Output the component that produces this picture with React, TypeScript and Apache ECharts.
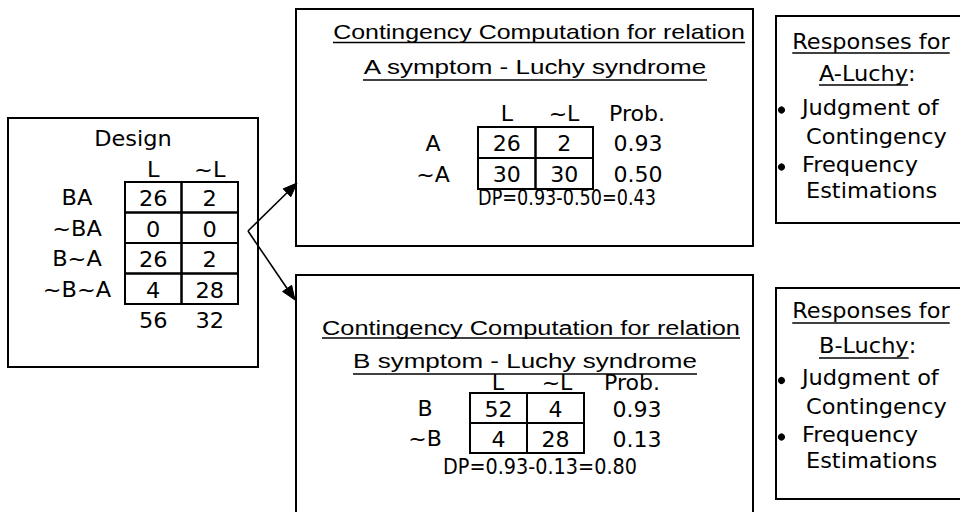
import React, { useEffect, useRef } from "react";
import * as echarts from "echarts";

// ---------- data ----------
const designTitle = "Design";
const designCols = ["L", "~L"];
const designRows = ["BA", "~BA", "B~A", "~B~A"];
const designL = [26, 0, 26, 4];
const designNotL = [2, 0, 2, 28];

const relACols = ["L", "~L", "Prob."];
const relARows = ["A", "~A"];
const relAL = [26, 30];
const relANotL = [2, 30];
const relATitle = ["Contingency Computation for relation", "A symptom - Luchy syndrome"];

const relBCols = ["L", "~L", "Prob."];
const relBRows = ["B", "~B"];
const relBL = [52, 4];
const relBNotL = [4, 28];
const relBTitle = ["Contingency Computation for relation", "B symptom - Luchy syndrome"];

const respHead = "Responses for";
const respATarget = "A-Luchy";
const respBTarget = "B-Luchy";
const respItems = [
  ["Judgment of", "Contingency"],
  ["Frequency", "Estimations"],
];

// ---------- helpers ----------
const FONT = "DejaVu Sans, Verdana, sans-serif";
const TFONT = "Liberation Sans, Arial, sans-serif";

let ctx: CanvasRenderingContext2D | null = null;
function measure(text: string, size: number, family: string): number {
  if (!ctx) ctx = document.createElement("canvas").getContext("2d");
  if (!ctx) return text.length * size * 0.55;
  ctx.font = `${size}px ${family}`;
  return ctx.measureText(text).width;
}

type TOpt = { size?: number; family?: string; align?: string; sx?: number; width?: number };
function T(text: string, x: number, y: number, o: TOpt = {}) {
  const size = o.size ?? 21;
  const family = o.family ?? FONT;
  let sx = o.sx ?? 1;
  if (o.width) sx = o.width / measure(text, size, family);
  const align = o.align ?? "center";
  return {
    type: "text",
    x,
    y,
    scaleX: sx,
    style: {
      text,
      fontSize: size,
      fontFamily: family,
      fill: "#000",
      align,
      verticalAlign: "middle",
      textAlign: align,
      textVerticalAlign: "middle",
    },
  };
}
function textW(text: string, size: number, family: string, sx: number) {
  return measure(text, size, family) * sx;
}
function L(x1: number, y1: number, x2: number, y2: number, w = 1.5) {
  return { type: "line", shape: { x1, y1, x2, y2 }, style: { stroke: "#000", lineWidth: w } };
}
function R(x: number, y: number, width: number, height: number, w = 2) {
  return { type: "rect", shape: { x, y, width, height }, style: { fill: "none", stroke: "#000", lineWidth: w } };
}
function arrow(x1: number, y1: number, x2: number, y2: number) {
  const dx = x2 - x1, dy = y2 - y1;
  const len = Math.hypot(dx, dy);
  const ux = dx / len, uy = dy / len;
  const hl = 14, hw = 5.5;
  const bx = x2 - ux * hl, by = y2 - uy * hl;
  return [
    L(x1, y1, bx, by, 1.6),
    {
      type: "polygon",
      shape: { points: [[x2, y2], [bx - uy * hw, by + ux * hw], [bx + uy * hw, by - ux * hw]] },
      style: { fill: "#000", stroke: "#000", lineWidth: 1 },
    },
  ];
}
function prob(a: number, b: number) {
  return (a / (a + b)).toFixed(2);
}

// ---------- builders ----------
function designBox() {
  const els: any[] = [];
  els.push(R(8, 118, 250, 249));
  const sx = 1.07;
  els.push(T(designTitle, 133, 139, { sx }));
  const x0 = 125, cw = 56.5, y0 = 182, rh = 30.5;
  designCols.forEach((c, j) => els.push(T(c, x0 + cw * (j + 0.5), 170, { sx })));
  designRows.forEach((r, i) => {
    const cy = y0 + rh * (i + 0.5);
    els.push(T(r, 77, cy + 1, { sx }));
    [designL[i], designNotL[i]].forEach((v, j) => {
      els.push(R(x0 + cw * j, y0 + rh * i, cw, rh));
      els.push(T(String(v), x0 + cw * (j + 0.5), cy + 2, { sx }));
    });
  });
  const totL = designL.reduce((a, b) => a + b, 0);
  const totN = designNotL.reduce((a, b) => a + b, 0);
  els.push(T(String(totL), x0 + cw * 0.5, 321, { sx }));
  els.push(T(String(totN), x0 + cw * 1.5, 321, { sx }));
  return els;
}

type RelLayout = {
  box: [number, number, number, number];
  t1: [number, number, number, number]; // cx, cy, underline y, width
  t2: [number, number, number, number];
  headY: number;
  headX: [number, number, number];
  x0: number; cw: number; y0: number; rh: number;
  rowX: number; probX: number;
  dp: [number, number, number];
};
function relBox(title: string[], cols: string[], rows: string[], lv: number[], nv: number[], lay: RelLayout) {
  const els: any[] = [];
  const [bx, by, bw, bh] = lay.box;
  els.push(R(bx, by, bw, bh));
  [lay.t1, lay.t2].forEach((t, k) => {
    const [cx, cy, uy, w] = t;
    els.push(T(title[k], cx, cy, { family: TFONT, size: 21, width: w }));
    els.push(L(cx - w / 2, uy, cx + w / 2, uy, 1.5));
  });
  const sx = 1.05;
  cols.forEach((c, j) => els.push(T(c, lay.headX[j], lay.headY, { sx })));
  const probs: string[] = [];
  rows.forEach((r, i) => {
    const cy = lay.y0 + lay.rh * (i + 0.5);
    els.push(T(r, lay.rowX, cy + 1, { sx }));
    [lv[i], nv[i]].forEach((v, j) => {
      els.push(R(lay.x0 + lay.cw * j, lay.y0 + lay.rh * i, lay.cw, lay.rh));
      els.push(T(String(v), lay.x0 + lay.cw * (j + 0.5), cy + 1.5, { sx }));
    });
    const p = prob(lv[i], nv[i]);
    probs.push(p);
    els.push(T(p, lay.probX, cy + 1.5, { sx }));
  });
  const dpv = (Number(probs[0]) - Number(probs[1])).toFixed(2);
  const dpText = `DP=${probs[0]}-${probs[1]}=${dpv}`;
  els.push(T(dpText, lay.dp[0], lay.dp[1], { width: lay.dp[2] }));
  return els;
}

function respBox(target: string, top: number, bottom: number, ys: number[], uys: [number, number]) {
  const els: any[] = [];
  els.push(R(776, top, 240, bottom - top));
  const size = 22, sx = 1.02;
  const w0 = textW(respHead, size, FONT, sx);
  els.push(T(respHead, 871, ys[0], { size, sx }));
  els.push(L(871 - w0 / 2, uys[0], 871 + w0 / 2, uys[0], 1.5));
  const w1 = textW(target, size, FONT, sx);
  els.push(T(target, 819, ys[1], { size, sx, align: "left" }));
  els.push(T(":", 819 + w1, ys[1], { size, sx, align: "left" }));
  els.push(L(819, uys[1], 819 + w1, uys[1], 1.5));
  respItems.forEach((item, k) => {
    const y1 = ys[2 + k * 2], y2 = ys[3 + k * 2];
    els.push({ type: "circle", shape: { cx: 781.5, cy: y1 + 3, r: 3.6 }, style: { fill: "#000" } });
    els.push(T(item[0], 802, y1, { size, sx, align: "left" }));
    els.push(T(item[1], 806, y2, { size, sx, align: "left" }));
  });
  return els;
}

export default function App() {
  const ref = useRef<HTMLDivElement>(null);
  useEffect(() => {
    if (!ref.current) return;
    const chart = echarts.init(ref.current, null, { renderer: "svg", width: 960, height: 512 });
    const elements: any[] = [
      { type: "rect", shape: { x: 0, y: 0, width: 960, height: 512 }, style: { fill: "#fff" }, z: -10 },
      ...designBox(),
      ...arrow(248, 231, 297, 183),
      ...arrow(248, 231, 295, 300),
      ...relBox(relATitle, relACols, relARows, relAL, relANotL, {
        box: [296, 9, 457, 237],
        t1: [539, 32, 42.5, 412],
        t2: [535, 66.5, 80, 344],
        headY: 114,
        headX: [507, 564, 637],
        x0: 478, cw: 57.5, y0: 127, rh: 31,
        rowX: 433, probX: 638,
        dp: [567, 198, 178],
      }),
      ...relBox(relBTitle, relBCols, relBRows, relBL, relBNotL, {
        box: [296, 275, 457, 260],
        t1: [531, 327.5, 338, 418],
        t2: [525, 360.5, 374, 344],
        headY: 383,
        headX: [498, 557, 632],
        x0: 470, cw: 57, y0: 393, rh: 30,
        rowX: 425, probX: 637,
        dp: [540, 467, 194],
      }),
      ...respBox(respATarget, 16, 223, [41.5, 73, 107, 136, 164, 190], [53, 85]),
      ...respBox(respBTarget, 288, 499, [310.5, 345.5, 377.5, 406.5, 434, 460], [323, 358]),
    ];
    chart.setOption({ animation: false, graphic: { elements } });
    return () => chart.dispose();
  }, []);
  return (
    <div
      ref={ref}
      style={{ position: "fixed", left: 0, top: 0, width: 960, height: 512, background: "#fff" }}
    />
  );
}
